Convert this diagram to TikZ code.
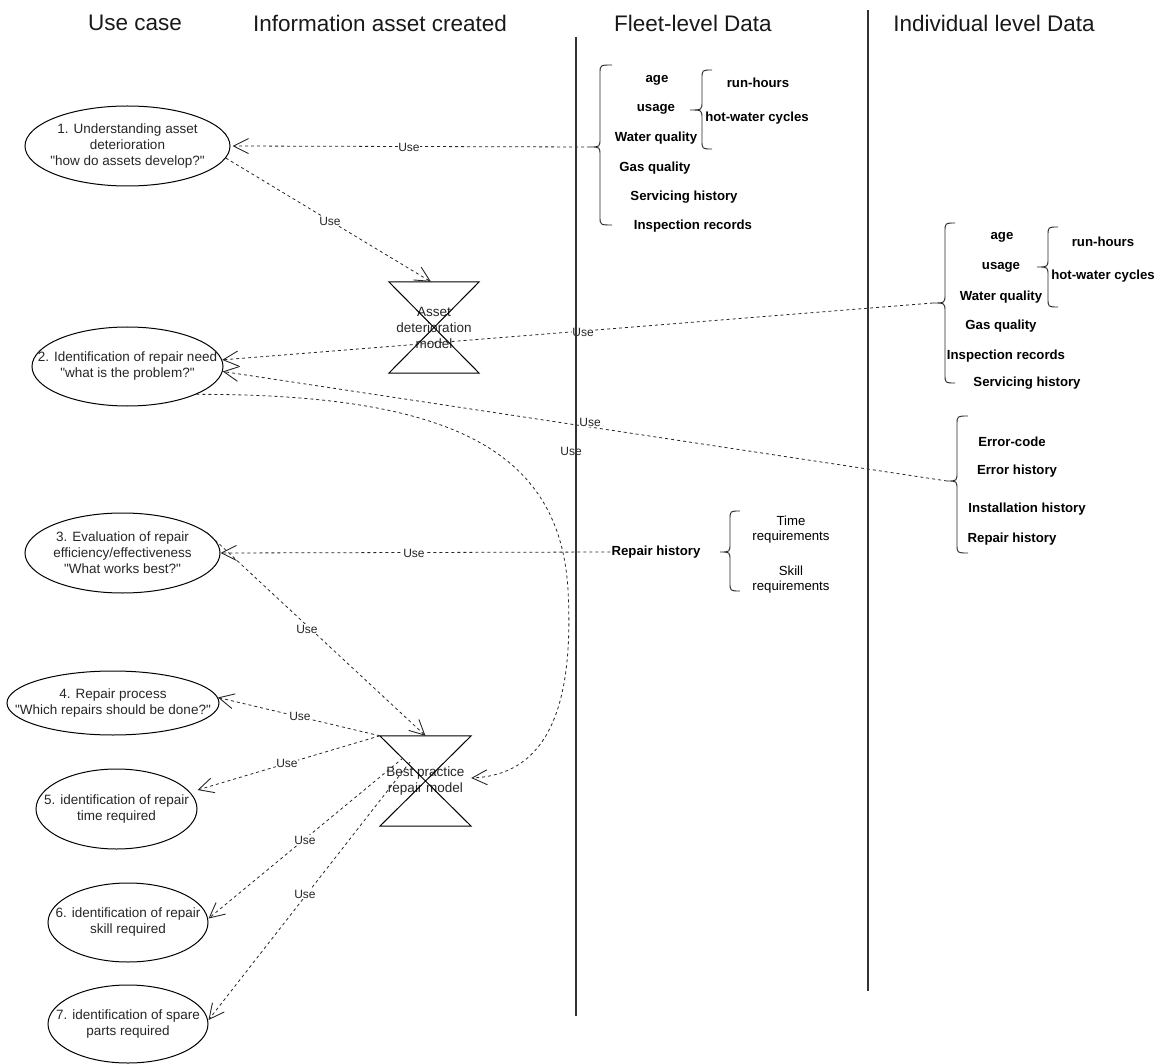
\documentclass[tikz,border=0pt]{standalone}
\usepackage{fontspec}
\setmainfont{Liberation Sans}
\usetikzlibrary{shapes.geometric,arrows.meta}
\newcommand\mybrace[6]{%
  \draw[bracestyle] (#3,#4) .. controls (#2,#4) .. (#2,#4+9) -- (#2,#5-9)
    .. controls (#2,#5) .. (#1,#5) .. controls (#2,#5) .. (#2,#5+9) -- (#2,#6-9)
    .. controls (#2,#6) .. (#3,#6);}
\newcommand\qq{\textquotedbl}
\tikzset{
  uc/.style={draw, ellipse, line width=1pt, inner sep=0pt},
  uctext/.style={align=center, font=\fontsize{13.5}{16}\selectfont, text=black!85},
  title/.style={font=\fontsize{22.5}{26}\selectfont, text=black!90},
  item/.style={font=\bfseries\fontsize{13.2}{16}\selectfont, inner sep=1pt},
  itemr/.style={font=\fontsize{13.2}{15}\selectfont, align=center, inner sep=1pt},
  conn/.style={dash pattern=on 3pt off 3pt, line width=0.8pt, black!85,
    -{Straight Barb[length=15pt,width=15pt,line width=0.9pt]}},
  uselbl/.style={fill=white, inner sep=0.8pt, font=\fontsize{12}{14}\selectfont, text=black!85},
  vline/.style={line width=2pt, black!80},
  bracestyle/.style={line width=0.9pt, black!85},
  hg/.style={inner sep=0pt, align=center, font=\fontsize{13.5}{16}\selectfont, text=black!85},
  hgline/.style={line width=1pt}
}
\begin{document}
\begin{tikzpicture}[x=1pt,y=-1pt]
\useasboundingbox (0,0) rectangle (1164,1064);

% titles
\node[title] (t1) at (135,23) {Use case};
\node[title] (t2) at (380,23) {Information asset created};
\node[title] (t3) at (693,23) {Fleet-level Data};
\node[title] (t4) at (994,23) {Individual level Data};

% use case ellipses
\node[uc, minimum width=205, minimum height=80] (e1) at (127.5,146) {};
\node[uctext] (e1t) at (e1) {1. Understanding asset\\deterioration\\\qq how do assets develop?\qq};
\node[uc, minimum width=191, minimum height=79] (e2) at (127.5,366.5) {};
\node[uctext] (e2t) at (e2) {2. Identification of repair need\\\qq what is the problem?\qq};
\node[uc, minimum width=195, minimum height=80] (e3) at (122.5,553) {};
\node[uctext] (e3t) at (e3) {3. Evaluation of repair\\efficiency/effectiveness\\\qq What works best?\qq};
\node[uc, minimum width=212, minimum height=64] (e4) at (113,703) {};
\node[uctext] (e4t) at (e4) {4. Repair process\\\qq Which repairs should be done?\qq};
\node[uc, minimum width=161, minimum height=80] (e5) at (116.5,809) {};
\node[uctext] (e5t) at (e5) {5. identification of repair\\time required};
\node[uc, minimum width=160, minimum height=79] (e6) at (128,922.5) {};
\node[uctext] (e6t) at (e6) {6. identification of repair\\skill required};
\node[uc, minimum width=160, minimum height=78] (e7) at (128,1024) {};
\node[uctext] (e7t) at (e7) {7. identification of spare\\parts required};

% hourglass models
\node[hg, minimum width=90, minimum height=91] (h1) at (434,327.5) {Asset\\deterioration\\model};
\draw[hgline] (h1.north west) -- (h1.north east) -- (h1.south west) -- (h1.south east) -- cycle;
\node[hg, minimum width=91, minimum height=90] (h2) at (425.5,781) {Best practice\\repair model};
\draw[hgline] (h2.north west) -- (h2.north east) -- (h2.south west) -- (h2.south east) -- cycle;

% fleet-level data
\mybrace{590}{600}{612}{65}{147}{225}
\coordinate (fb) at (590,147);
\node[item] (fa1) at (657,80) {age};
\node[item] (fa2) at (656,109) {usage};
\node[item] (fa3) at (656,138) {Water quality};
\node[item] (fa4) at (655,168) {Gas quality};
\node[item] (fa5) at (684,197) {Servicing history};
\node[item] (fa6) at (693,226) {Inspection records};
\mybrace{690}{702}{712}{70}{110}{149}
\node[item] (fu1) at (758,83) {run-hours};
\node[item] (fu2) at (757,118) {hot-water cycles};

\node[item] (rh) at (656,552) {Repair history};
\mybrace{720}{730}{740}{511}{552}{591}
\node[itemr] (rt) at (791,530) {Time\\requirements};
\node[itemr] (rs) at (791,580) {Skill\\requirements};

% individual-level data
\mybrace{933}{945}{955}{223}{303}{383}
\coordinate (ib1) at (933,303);
\node[item] (ia1) at (1002,237) {age};
\node[item] (ia2) at (1001,267) {usage};
\node[item] (ia3) at (1001,297) {Water quality};
\node[item] (ia4) at (1001,326) {Gas quality};
\node[item] (ia5) at (1006,356) {Inspection records};
\node[item] (ia6) at (1027,383) {Servicing history};
\mybrace{1037}{1048}{1058}{227}{267}{307}
\node[item] (iu1) at (1103,242) {run-hours};
\node[item] (iu2) at (1103,276) {hot-water cycles};

\mybrace{947}{957}{968}{416}{481}{553}
\coordinate (ib2) at (947,481);
\node[item] (ie1) at (1012,442) {Error-code};
\node[item] (ie2) at (1017,471) {Error history};
\node[item] (ie3) at (1027,509) {Installation history};
\node[item] (ie4) at (1012,539) {Repair history};

% connectors
\coordinate (h2a) at (403,758);
\coordinate (h2b) at (410,762);
\draw[conn] (fb) -- ([xshift=2pt]e1.east);
\draw[conn] (e1.-7) -- ([xshift=-3pt]h1.north);
\draw[conn] (ib1) -- (e2.4);
\draw[conn] (ib2) -- (e2.-3);
\draw[conn] (e2.-22) .. controls (450,394) and (560,450) .. (568,590)
   .. controls (575,720) and (540,775) .. ([yshift=3pt]h2.east);
\draw[conn] (rh.west) -- (e3.east);
\draw[conn] (e3.14) -- (h2.north);
\draw[conn] (h2.north west) -- (e4.3);
\draw[conn] (h2.north west) -- ([yshift=19pt]e5.east);
\draw[conn] (h2a) -- ([yshift=4pt]e6.east);
\draw[conn] (h2b) -- ([yshift=4pt]e7.east);

% connector labels
\node[uselbl] (la) at (409,147) {Use};
\node[uselbl] (lb) at (330,221) {Use};
\node[uselbl] (lc) at (583,332) {Use};
\node[uselbl] (ld) at (590,422) {Use};
\node[uselbl] (le) at (571,451) {Use};
\node[uselbl] (lrh) at (414,553) {Use};
\node[uselbl] (lf) at (307,629) {Use};
\node[uselbl] (lg) at (300,716) {Use};
\node[uselbl] (lh) at (287,763) {Use};
\node[uselbl] (li) at (305,840) {Use};
\node[uselbl] (lj) at (305,894) {Use};

% column separators
\coordinate (v1t) at (576,37);
\coordinate (v1b) at (576,1016);
\coordinate (v2t) at (868,10);
\coordinate (v2b) at (868,991);
\draw[vline] (v1t) -- (v1b);
\draw[vline] (v2t) -- (v2b);
\end{tikzpicture}
\end{document}
